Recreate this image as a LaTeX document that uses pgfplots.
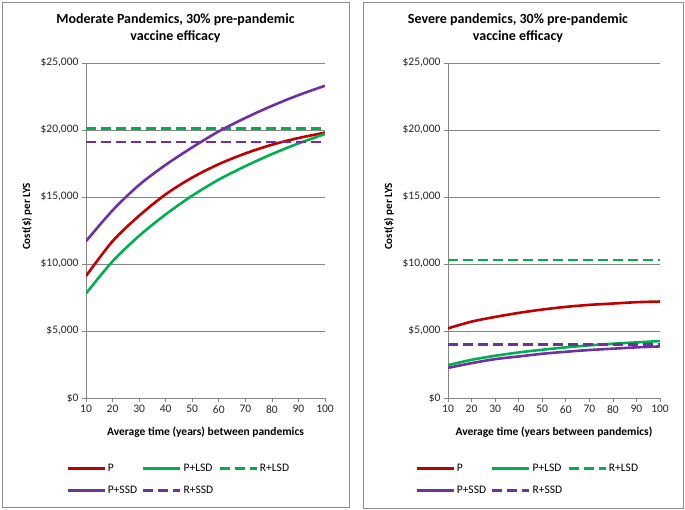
\documentclass[border=0pt]{standalone}
\usepackage{fontspec}
\setmainfont{Carlito}
\usepackage{pgfplots}
\pgfplotsset{compat=1.18}
\definecolor{cred}{RGB}{192,0,0}
\definecolor{cgreen}{RGB}{0,176,80}
\definecolor{cpurple}{RGB}{112,48,160}
\definecolor{gridgray}{RGB}{134,134,134}
\definecolor{boxgray}{RGB}{140,140,140}

\pgfplotsset{
 mystyle/.style={
  scale only axis, height=335pt,
  xmin=10, xmax=100, ymin=0, ymax=25000,
  xtick={10,20,...,100}, ytick={0,5000,10000,15000,20000,25000},
  yticklabels={{\$0},{\$5,000},{\$10,000},{\$15,000},{\$20,000},{\$25,000}},
  scaled y ticks=false,
  /pgf/number format/assume math mode=true,
  axis x line*=bottom, axis y line*=left,
  axis line style={gridgray, line width=0.7pt, -},
  ymajorgrids, grid style={gridgray, line width=0.7pt},
  tick align=outside, major tick length=4pt,
  tick style={gridgray, line width=0.7pt},
  ticklabel style={font=\fontsize{11.5}{13}\selectfont, text=black!85},
  ylabel={Cost(\$) per LYS},
  ylabel style={font=\bfseries\fontsize{11}{13}\selectfont, at={(ticklabel cs:0.542)}, yshift=2pt},
  xlabel style={font=\bfseries\fontsize{11.5}{13}\selectfont, yshift=-7pt},
  legend columns=3,
  legend cell align=left,
  legend image code/.code={\draw[##1] (0pt,0pt) -- (37pt,0pt);},
  legend style={draw=none, fill=none, font=\fontsize{11.5}{13}\selectfont,
    anchor=north west, at={(0,0)},
    /tikz/every even column/.append style={column sep=3pt},
    row sep=9pt},
  every axis plot/.append style={line width=2.6pt},
 },
 dashedline/.style={dash pattern=on 10pt off 5pt},
}

\begin{document}
\begin{tikzpicture}
\useasboundingbox (0,0) rectangle (685pt,509pt);
\draw[boxgray, line width=0.8pt] (2pt,2pt) rectangle (349pt,507pt);
\draw[boxgray, line width=0.8pt] (363pt,1pt) rectangle (683pt,507pt);

\node[align=center, font=\bfseries\fontsize{14}{17}\selectfont] at (175.5pt,480.5pt)
  {Moderate Pandemics, 30\% pre-pandemic\\vaccine efficacy};
\node[align=center, font=\bfseries\fontsize{14}{17}\selectfont] at (518pt,480.5pt)
  {Severe pandemics, 30\% pre-pandemic\\vaccine efficacy};

\begin{axis}[mystyle, at={(86pt,111pt)}, anchor=south west, width=239pt,
  xlabel={Average time (years) between pandemics},
  legend style={xshift=-23pt, yshift=-62pt}]
\addplot[cred, smooth] coordinates {(10,9100) (20,11700) (30,13600) (40,15200) (50,16450) (60,17450) (70,18250) (80,18900) (90,19400) (100,19800)};
\addlegendentry{P}
\addplot[cgreen, smooth] coordinates {(10,7800) (20,10200) (30,12100) (40,13700) (50,15100) (60,16300) (70,17300) (80,18200) (90,19000) (100,19700)};
\addlegendentry{P+LSD}
\addplot[cgreen, dashedline] coordinates {(10,20100) (100,20100)};
\addlegendentry{R+LSD}
\addplot[cpurple, smooth] coordinates {(10,11700) (20,14000) (30,15900) (40,17400) (50,18700) (60,19900) (70,20900) (80,21800) (90,22600) (100,23300)};
\addlegendentry{P+SSD}
\addplot[cpurple, dashedline] coordinates {(10,19100) (100,19100)};
\addlegendentry{R+SSD}
\end{axis}

\begin{axis}[mystyle, at={(448pt,111pt)}, anchor=south west, width=212pt,
  xlabel={Average time (years between pandemics)},
  legend style={xshift=-36pt, yshift=-62pt}]
\addplot[cred, smooth] coordinates {(10,5200) (20,5700) (30,6050) (40,6350) (50,6600) (60,6800) (70,6950) (80,7050) (90,7150) (100,7200)};
\addlegendentry{P}
\addplot[cgreen, smooth] coordinates {(10,2450) (20,2850) (30,3150) (40,3400) (50,3600) (60,3780) (70,3930) (80,4050) (90,4150) (100,4250)};
\addlegendentry{P+LSD}
\addplot[cgreen, dashedline] coordinates {(10,10300) (100,10300)};
\addlegendentry{R+LSD}
\addplot[cpurple, smooth] coordinates {(10,2250) (20,2600) (30,2900) (40,3100) (50,3300) (60,3450) (70,3580) (80,3680) (90,3780) (100,3850)};
\addlegendentry{P+SSD}
\addplot[cpurple, dashedline] coordinates {(10,4000) (100,4000)};
\addlegendentry{R+SSD}
\end{axis}
\end{tikzpicture}
\end{document}
